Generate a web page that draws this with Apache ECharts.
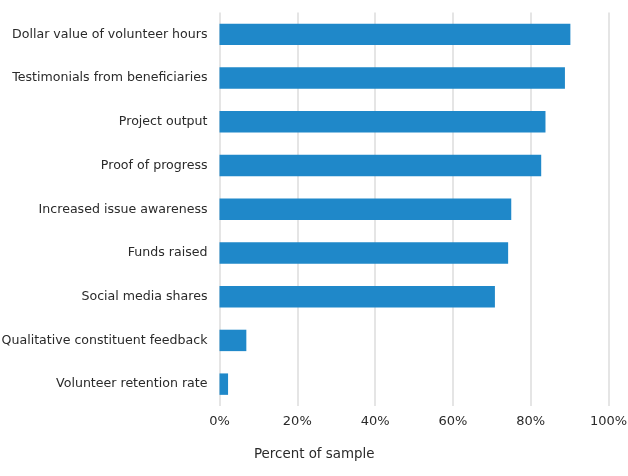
<!DOCTYPE html>
<html><head><meta charset="utf-8">
<script src="https://cdn.jsdelivr.net/npm/echarts@6/dist/echarts.min.js"></script>
<style>html,body{margin:0;padding:0;background:#fff}#c{width:628px;height:476px}</style>
</head><body><div id="c"></div>
<script>
const categories = ["Dollar value of volunteer hours","Testimonials from beneficiaries","Project output","Proof of progress","Increased issue awareness","Funds raised","Social media shares","Qualitative constituent feedback","Volunteer retention rate"];
const values = [90.2, 88.8, 83.8, 82.7, 75.0, 74.2, 70.8, 6.9, 2.2];
const xTicks = [0, 20, 40, 60, 80, 100];
const axisTitle = "Percent of sample";

const chart = echarts.init(document.getElementById('c'));
const font = 'DejaVu Sans';
chart.setOption({
  animation: false,
  title: { text: axisTitle, left: 249, top: 443, textStyle: { fontFamily: font, fontSize: 13.4, fontWeight: 'normal', color: '#2a2a2a' } },
  grid: { left: 219.5, right: 19.5, top: 12.5, bottom: 70, containLabel: false, outerBoundsMode: 'none' },
  xAxis: {
    type: 'value', min: 0, max: 100, interval: 20,
    axisLine: { show: false }, axisTick: { show: false },
    splitLine: { show: true, lineStyle: { color: '#dcdcdc', width: 1.5 } },
    axisLabel: { formatter: v => xTicks.includes(v) ? v + '%' : '', fontFamily: font, fontSize: 13, color: '#2a2a2a', margin: 9 }
  },
  yAxis: {
    type: 'category', data: categories, inverse: true,
    axisLine: { show: false }, axisTick: { show: false },
    axisLabel: { fontFamily: font, fontSize: 12.6, color: '#2a2a2a', margin: 12 }
  },
  series: [{ type: 'bar', data: values, barWidth: '49%', itemStyle: { color: '#1f88c9' } }]
});
</script></body></html>
